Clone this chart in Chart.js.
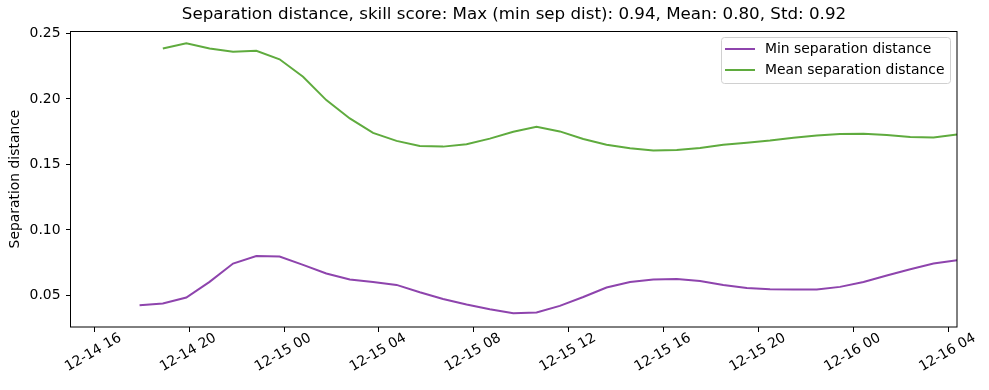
<!DOCTYPE html>
<html lang="en">
<head>
    <meta charset="UTF-8">
    <title>Separation distance</title>
    <script src="https://cdn.jsdelivr.net/npm/chart.js@4.4.0/dist/chart.umd.min.js"></script>
    <style>
        html, body { margin: 0; padding: 0; background: #fff; overflow: hidden; }
        #sepChart { display: block; }
    </style>
</head>
<body>
    <canvas id="sepChart" width="989" height="390"></canvas>
    <script>
        // sample times, hours since 12-14 00:00
        const times = [17.91, 18.89, 19.88, 20.86, 21.85, 22.83, 23.81, 24.80, 25.78, 26.77,
                       27.75, 28.74, 29.72, 30.70, 31.69, 32.67, 33.66, 34.64, 35.62, 36.61,
                       37.59, 38.58, 39.56, 40.55, 41.53, 42.51, 43.50, 44.48, 45.47, 46.45,
                       47.43, 48.42, 49.40, 50.39, 51.37, 52.36];

        const minSep = [0.0426, 0.0439, 0.0485, 0.0604, 0.0744, 0.0802, 0.0798, 0.0734, 0.0668, 0.0622,
                        0.0604, 0.0581, 0.0525, 0.0474, 0.0431, 0.0395, 0.0365, 0.0370, 0.0421, 0.0489,
                        0.0561, 0.0604, 0.0622, 0.0627, 0.0611, 0.0581, 0.0558, 0.0548, 0.0546, 0.0546,
                        0.0566, 0.0604, 0.0653, 0.0701, 0.0744, 0.0769];

        const meanSep = [null, 0.2385, 0.2424, 0.2385, 0.2360, 0.2367, 0.2302, 0.2169, 0.1991, 0.1851,
                         0.1741, 0.1680, 0.1640, 0.1636, 0.1654, 0.1697, 0.1750, 0.1787, 0.1752, 0.1694,
                         0.1650, 0.1623, 0.1606, 0.1610, 0.1626, 0.1650, 0.1666, 0.1682, 0.1704, 0.1720,
                         0.1733, 0.1734, 0.1724, 0.1710, 0.1705, 0.1729];

        const xTickValues = [16, 20, 24, 28, 32, 36, 40, 44, 48, 52];
        const xTickLabels = ['12-14 16', '12-14 20', '12-15 00', '12-15 04', '12-15 08',
                             '12-15 12', '12-15 16', '12-15 20', '12-16 00', '12-16 04'];
        const yTickValues = [0.05, 0.10, 0.15, 0.20, 0.25];

        const titleText = 'Separation distance, skill score: Max (min sep dist): 0.94, Mean: 0.80, Std: 0.92';
        const FONT = 'DejaVu Sans';
        const FS = 13.9;
        const purple = '#8e44ad';
        const green = '#5fab3e';

        // title, frame, rotated x labels and the legend box
        const decorPlugin = {
            id: 'decor',
            afterDraw(chart) {
                const ctx = chart.ctx;
                const a = chart.chartArea;
                const xs = chart.scales.x;
                ctx.save();

                ctx.strokeStyle = '#000';
                ctx.lineWidth = 1;
                ctx.strokeRect(a.left - 0.5, a.top + 0.5, a.right - a.left + 0.5, a.bottom - a.top - 0.5);

                ctx.fillStyle = '#000';
                ctx.font = '16.7px "' + FONT + '"';
                ctx.textAlign = 'center';
                ctx.textBaseline = 'middle';
                ctx.fillText(titleText, (a.left + a.right) / 2, 15);

                ctx.font = FS + 'px "' + FONT + '"';
                xTickValues.forEach((v, i) => {
                    const x = xs.getPixelForValue(v);
                    ctx.save();
                    ctx.translate(x - 1, a.bottom + 25.5);
                    ctx.rotate(-Math.PI / 6);
                    ctx.fillText(xTickLabels[i], 0, 0);
                    ctx.restore();
                });

                // legend
                const bx = 721.5, by = 37.5, bw = 229, bh = 46;
                ctx.beginPath();
                ctx.roundRect(bx, by, bw, bh, 3);
                ctx.fillStyle = 'rgba(255,255,255,0.8)';
                ctx.fill();
                ctx.strokeStyle = '#d0d0d0';
                ctx.lineWidth = 1;
                ctx.stroke();
                ctx.textAlign = 'left';
                chart.data.datasets.forEach((ds, i) => {
                    const y = 49 + i * 21;
                    ctx.beginPath();
                    ctx.moveTo(725, y);
                    ctx.lineTo(755, y);
                    ctx.strokeStyle = ds.borderColor;
                    ctx.lineWidth = 2;
                    ctx.stroke();
                    ctx.fillStyle = '#000';
                    ctx.fillText(ds.label, 765, y);
                });
                ctx.restore();
            }
        };

        const ctx = document.getElementById('sepChart').getContext('2d');
        new Chart(ctx, {
            type: 'line',
            data: {
                datasets: [{
                    label: 'Min separation distance',
                    data: times.map((t, i) => ({ x: t, y: minSep[i] })),
                    borderColor: purple,
                    borderWidth: 2,
                    pointRadius: 0,
                    tension: 0
                }, {
                    label: 'Mean separation distance',
                    data: times.map((t, i) => ({ x: t, y: meanSep[i] })),
                    borderColor: green,
                    borderWidth: 2,
                    pointRadius: 0,
                    tension: 0
                }]
            },
            options: {
                responsive: false,
                animation: false,
                devicePixelRatio: 1,
                layout: { padding: { top: 31, right: 32, left: 0, bottom: 0 } },
                plugins: {
                    legend: { display: false },
                    title: { display: false },
                    tooltip: { enabled: false }
                },
                scales: {
                    x: {
                        type: 'linear',
                        min: 15.02,
                        max: 52.36,
                        afterBuildTicks: s => { s.ticks = xTickValues.map(v => ({ value: v })); },
                        afterFit: s => { s.height = 63; },
                        border: { display: false },
                        grid: { drawOnChartArea: false, drawTicks: true, tickLength: 5, color: '#000' },
                        ticks: { display: false, autoSkip: false }
                    },
                    y: {
                        min: 0.026,
                        max: 0.2518,
                        afterBuildTicks: s => { s.ticks = yTickValues.map(v => ({ value: v })); },
                        afterFit: s => { s.width = 71; },
                        border: { display: false },
                        grid: { drawOnChartArea: false, drawTicks: true, tickLength: 5, color: '#000' },
                        ticks: {
                            color: '#000',
                            padding: 5.5,
                            autoSkip: false,
                            font: { family: FONT, size: FS },
                            callback: v => v.toFixed(2)
                        },
                        title: {
                            display: true,
                            text: 'Separation distance',
                            color: '#000',
                            font: { family: FONT, size: FS },
                            padding: { top: 7, bottom: 0 }
                        }
                    }
                }
            },
            plugins: [decorPlugin]
        });
    </script>
</body>
</html>
